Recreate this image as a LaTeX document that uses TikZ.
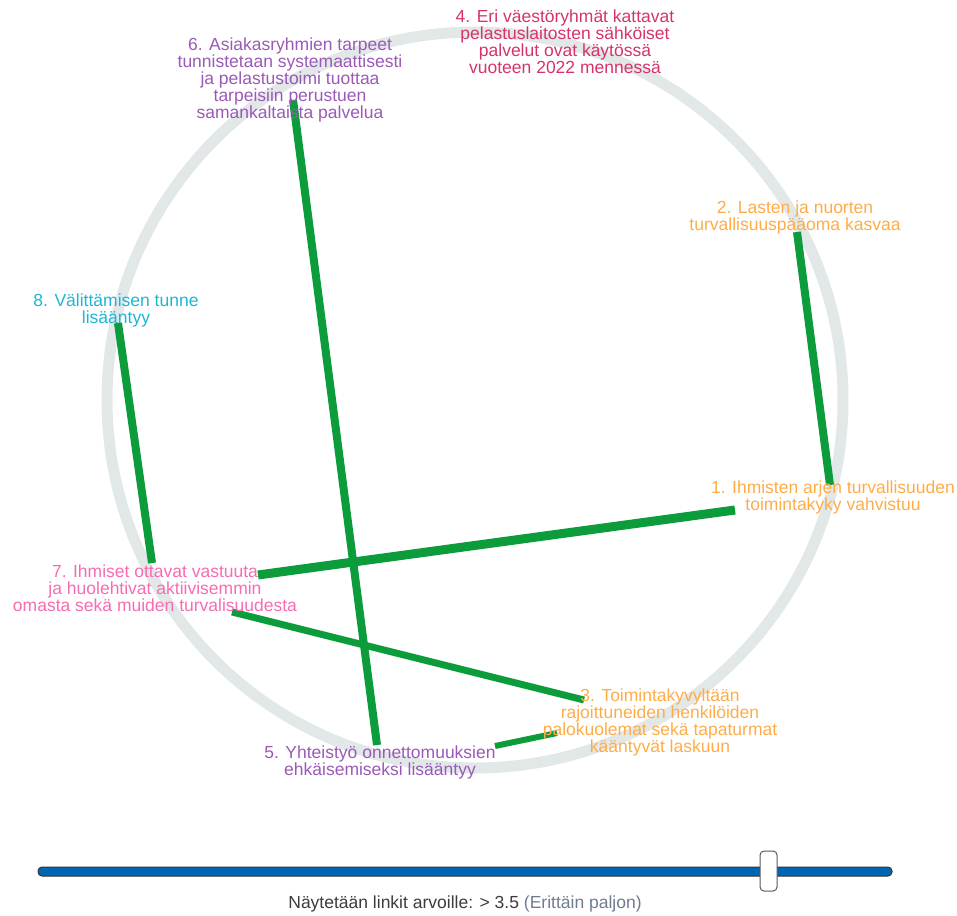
\documentclass[tikz,border=0pt]{standalone}
\usepackage{fontspec}
\setmainfont{Liberation Sans}
\definecolor{ringgray}{RGB}{226,232,232}
\definecolor{linkgreen}{RGB}{12,156,60}
\definecolor{goalorange}{RGB}{255,172,72}
\definecolor{goalpurple}{RGB}{155,89,182}
\definecolor{goalcrimson}{RGB}{214,51,108}
\definecolor{goalcyan}{RGB}{30,182,212}
\definecolor{goalpink}{RGB}{246,108,178}
\definecolor{trackblue}{RGB}{0,102,179}
\definecolor{captiondark}{RGB}{60,60,60}
\definecolor{captiongray}{RGB}{110,125,140}

\begin{document}
\begin{tikzpicture}[x=1pt,y=-1pt]
\tikzstyle{every node}+=[inner sep=0pt]
\tikzstyle{goal}=[align=center, font=\fontsize{17.5}{17}\selectfont]
\tikzstyle{link}=[draw=linkgreen, line width=8pt]
\useasboundingbox (0,0) rectangle (957,915);
% ring
\draw [ringgray, line width=11pt] (475,400) circle (368);
% link ends
\coordinate (e2) at (797,232);
\coordinate (e1a) at (830,485);
\coordinate (e6) at (293,100);
\coordinate (e5a) at (377,745);
\coordinate (e8) at (118,323);
\coordinate (e7a) at (152,563);
\coordinate (e7b) at (258,575);
\coordinate (e1b) at (735,510);
\coordinate (e7c) at (232,612);
\coordinate (e3a) at (584,700);
\coordinate (e5b) at (495,746);
\coordinate (e3b) at (557,733);
% links
\draw [link] (e2) -- (e1a);
\draw [link] (e6) -- (e5a);
\draw [link] (e8) -- (e7a);
\draw [link, line width=9pt] (e7b) -- (e1b);
\draw [link, line width=7pt] (e7c) -- (e3a);
\draw [link, line width=6pt] (e5b) -- (e3b);
% goals
\node [goal, text=goalorange] (n1) at (833,497) {1. Ihmisten arjen turvallisuuden\\toimintakyky vahvistuu};
\node [goal, text=goalorange] (n2) at (795,217) {2. Lasten ja nuorten\\turvallisuuspääoma kasvaa};
\node [goal, text=goalorange] (n3) at (660,722) {3. Toimintakyvyltään\\rajoittuneiden henkilöiden\\palokuolemat sekä tapaturmat\\kääntyvät laskuun};
\node [goal, text=goalcrimson] (n4) at (565,42) {4. Eri väestöryhmät kattavat\\pelastuslaitosten sähköiset\\palvelut ovat käytössä\\vuoteen 2022 mennessä};
\node [goal, text=goalpurple] (n5) at (380,762) {5. Yhteistyö onnettomuuksien\\ehkäisemiseksi lisääntyy};
\node [goal, text=goalpurple] (n6) at (290,80) {6. Asiakasryhmien tarpeet\\tunnistetaan systemaattisesti\\ja pelastustoimi tuottaa\\tarpeisiin perustuen\\samankaltaista palvelua};
\node [goal, text=goalpink] (n7) at (155,588) {7. Ihmiset ottavat vastuuta\\ja huolehtivat aktiivisemmin\\omasta sekä muiden turvalisuudesta};
\node [goal, text=goalcyan] (n8) at (116,310) {8. Välittämisen tunne\\lisääntyy};
% slider
\draw [fill=trackblue, draw=black!80, line width=1pt, rounded corners=4pt] (38,867) rectangle (892,876);
\draw [fill=white, draw=black!65, line width=1pt, rounded corners=4pt] (760,851) rectangle (777,891);
\node [font=\fontsize{17.5}{17}\selectfont] (caption) at (465,904) {\textcolor{captiondark}{Näytetään linkit arvoille: > 3.5} \textcolor{captiongray}{(Erittäin paljon)}};
\end{tikzpicture}
\end{document}
